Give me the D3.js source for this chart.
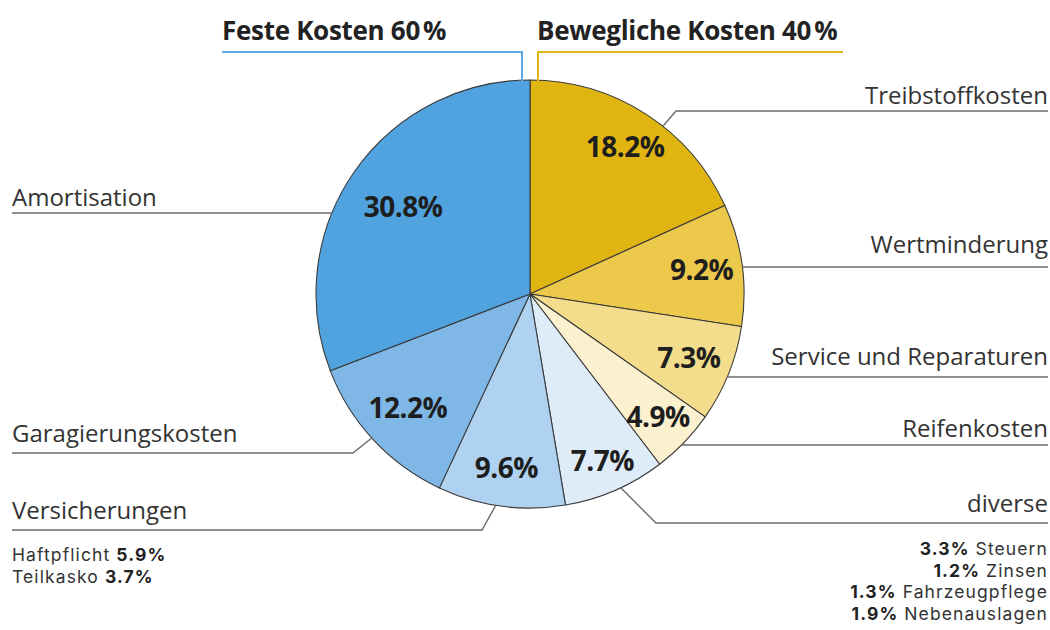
<!DOCTYPE html>
<html>
<head>
<meta charset="utf-8">
<script src="https://cdn.jsdelivr.net/npm/d3@7"></script>
<style>
  html, body { margin: 0; padding: 0; background: #fff; }
  svg { display: block; font-family: "Open Sans", "Noto Sans", sans-serif; }
  .detail { font-family: Inter, "Open Sans", sans-serif; }
</style>
</head>
<body>
<svg id="chart" width="1050" height="630"></svg>
<script>
// ---- data ----
const categories = ["Treibstoffkosten", "Wertminderung", "Service und Reparaturen", "Reifenkosten",
                    "diverse", "Versicherungen", "Garagierungskosten", "Amortisation"];
const values = [18.2, 9.2, 7.3, 4.9, 7.7, 9.6, 12.2, 30.8];
const groupTitles = ["Feste Kosten 60\u202F%", "Bewegliche Kosten 40\u202F%"];
const versicherungDetailNames = ["Haftpflicht", "Teilkasko"];
const versicherungDetailValues = ["5.9%", "3.7%"];
const diverseDetailNames = ["Steuern", "Zinsen", "Fahrzeugpflege", "Nebenauslagen"];
const diverseDetailValues = ["3.3%", "1.2%", "1.3%", "1.9%"];

// ---- styles / layout ----
const colors = ["#E0B512", "#ECC84B", "#F3DC8B", "#FCF1CE", "#DEEBF8", "#AFD2F1", "#7FB8E7", "#51A3DF"];
const cx = 530, cy = 294, R = 214;
const labelRadiusFactor = [0.82, 0.81, 0.80, 0.83, 0.85, 0.82, 0.78, 0.72];
// leader layout: side, y of horizontal line, attach angle on pie (deg), x of elbow (null = straight)
const leaders = [
  {side: "right", lineY: 111, angle: 38.4, elbowX: 676, textY: 104},
  {side: "right", lineY: 267, angle: null, elbowX: null, textY: 253},
  {side: "right", lineY: 377, angle: null, elbowX: null, textY: 365},
  {side: "right", lineY: 445, angle: null, elbowX: null, textY: 437},
  {side: "right", lineY: 523, angle: 154.9, elbowX: 656, textY: 512},
  {side: "left",  lineY: 530, angle: 189.2, elbowX: 482, textY: 519},
  {side: "left",  lineY: 453, angle: 227.7, elbowX: 353, textY: 442},
  {side: "left",  lineY: 213, angle: null, elbowX: null, textY: 206}
];
const leftX = 12, rightX = 1048;
const labelSize = 24, headerSize = 26, pctSize = 28, detailSize = 17.5, detailStep = 21.5;

const svg = d3.select("#chart");
const g = svg.append("g").attr("transform", `translate(${cx},${cy})`);

const pie = d3.pie().sort(null).value(d => d);
const arcs = pie(values);
const arc = d3.arc().innerRadius(0).outerRadius(R);

// header lines
const fixedColor = "#5AAAE2", varColor = "#E0B512";
svg.append("path")
  .attr("d", d3.line()([[222, 52], [522, 52], [522, cy - R + 1]]))
  .attr("fill", "none").attr("stroke", fixedColor).attr("stroke-width", 2);
svg.append("path")
  .attr("d", d3.line()([[843, 52], [538, 52], [538, cy - R + 1]]))
  .attr("fill", "none").attr("stroke", varColor).attr("stroke-width", 2);
svg.append("text").attr("x", 222).attr("y", 40)
  .attr("font-size", headerSize).attr("font-weight", 700).attr("fill", "#222")
  .attr("letter-spacing", -0.3)
  .text(groupTitles[0]);
svg.append("text").attr("x", 537).attr("y", 40)
  .attr("font-size", headerSize).attr("font-weight", 700).attr("fill", "#222")
  .attr("letter-spacing", -0.3)
  .text(groupTitles[1]);

// slices
g.selectAll("path.slice").data(arcs).enter().append("path")
  .attr("class", "slice")
  .attr("d", arc)
  .attr("fill", (d, i) => colors[i])
  .attr("stroke", "#3a3a3a").attr("stroke-width", 1.1).attr("stroke-linejoin", "round");

// percent labels
const fmt = d3.format(".1f");
g.selectAll("text.pct").data(arcs).enter().append("text")
  .attr("class", "pct")
  .attr("transform", (d, i) => {
    const a = d3.arc().innerRadius(R * labelRadiusFactor[i]).outerRadius(R * labelRadiusFactor[i]);
    const c = a.centroid(d);
    return `translate(${c[0]},${c[1]})`;
  })
  .attr("text-anchor", "middle").attr("dy", "0.36em")
  .attr("font-size", pctSize).attr("font-weight", 700).attr("fill", "#1e1e1e")
  .attr("letter-spacing", -0.5)
  .text(d => fmt(d.data) + "%");

// leaders and category labels
const lineColor = "#6a6a6a";
leaders.forEach((L, i) => {
  let pts;
  const endX = L.side === "right" ? rightX : leftX;
  if (L.angle === null) {
    const dy = L.lineY - cy;
    const dx = Math.sqrt(R * R - dy * dy);
    const sx = L.side === "right" ? cx + dx : cx - dx;
    pts = [[sx, L.lineY], [endX, L.lineY]];
  } else {
    const t = L.angle * Math.PI / 180;
    const sx = cx + R * Math.sin(t), sy = cy - R * Math.cos(t);
    pts = [[sx, sy], [L.elbowX, L.lineY], [endX, L.lineY]];
  }
  svg.append("path").attr("d", d3.line()(pts))
    .attr("fill", "none").attr("stroke", lineColor).attr("stroke-width", 1.4);
  svg.append("text")
    .attr("x", endX).attr("y", L.textY)
    .attr("text-anchor", L.side === "right" ? "end" : "start")
    .attr("font-size", labelSize).attr("fill", "#333")
    .text(categories[i]);
});

// detail lines: Versicherungen
versicherungDetailNames.forEach((n, i) => {
  const t = svg.append("text").attr("class", "detail")
    .attr("x", leftX).attr("y", 561 + i * detailStep)
    .attr("font-size", detailSize).attr("fill", "#333").attr("letter-spacing", 1.1);
  t.append("tspan").text(n + " ");
  t.append("tspan").attr("font-weight", 700).attr("fill", "#222").text(versicherungDetailValues[i]);
});
// detail lines: diverse
diverseDetailNames.forEach((n, i) => {
  const t = svg.append("text").attr("class", "detail")
    .attr("x", rightX).attr("y", 555 + i * detailStep)
    .attr("text-anchor", "end").attr("font-size", detailSize).attr("fill", "#333")
    .attr("letter-spacing", 1.1);
  t.append("tspan").attr("font-weight", 700).attr("fill", "#222").text(diverseDetailValues[i]);
  t.append("tspan").text(" " + n);
});
</script>
</body>
</html>
